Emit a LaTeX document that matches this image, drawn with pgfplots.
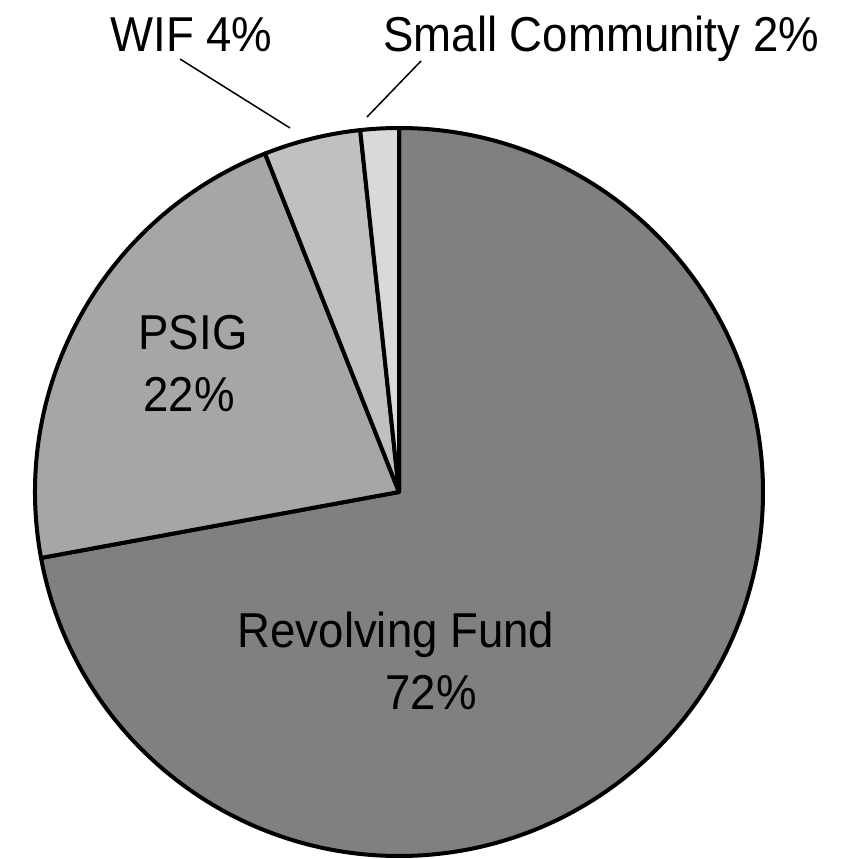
\documentclass[border=0pt]{standalone}
\usepackage{fontspec}
\setmainfont{Liberation Sans}[FakeStretch=0.93]
\usepackage{pgfplots}
\usepackage{pgfplotstable}
\pgfplotsset{compat=1.18}

\pgfplotstableread{
value shade
72.1 128
21.9 166
4.3 192
1.7 217
}\piedata

\begin{document}
\begin{tikzpicture}
\begin{axis}[
  x=0.5pt, y=0.5pt,
  xmin=0, xmax=851, ymin=0, ymax=859,
  hide axis, clip=false,
]
\path (axis cs:0,0) rectangle (axis cs:851,859);
\gdef\startang{90}
\pgfplotsforeachungrouped \i in {0,...,3}{%
  \pgfplotstablegetelem{\i}{value}\of\piedata \let\v\pgfplotsretval
  \pgfplotstablegetelem{\i}{shade}\of\piedata \let\s\pgfplotsretval
  \pgfmathsetmacro{\endang}{\startang-3.6*\v}%
  \edef\temp{\noexpand\filldraw[fill={rgb,255:red,\s;green,\s;blue,\s}, draw=black, line width=2pt, line join=round]
    (axis cs:399,367) -- ++(\startang:182pt) arc[start angle=\startang, end angle=\endang, radius=182pt] -- cycle;}%
  \temp
  \global\let\startang\endang
}
\draw[line width=0.75pt] (axis cs:180,800) -- (axis cs:290,731);
\draw[line width=0.75pt] (axis cs:421,798) -- (axis cs:367,742);
\tikzset{lbl/.style={inner sep=0pt, font=\fontsize{24.5}{29}\selectfont}}
\node[lbl, anchor=base west] at (axis cs:110,807) {WIF 4\%};
\node[lbl, anchor=base west] at (axis cs:383,807) {Small Community 2\%};
\node[lbl, anchor=base] at (axis cs:193,509) {PSIG};
\node[lbl, anchor=base] at (axis cs:189,447) {22\%};
\node[lbl, anchor=base] at (axis cs:396,212) {Revolving Fund};
\node[lbl, anchor=base] at (axis cs:431,149) {72\%};
\end{axis}
\end{tikzpicture}
\end{document}
